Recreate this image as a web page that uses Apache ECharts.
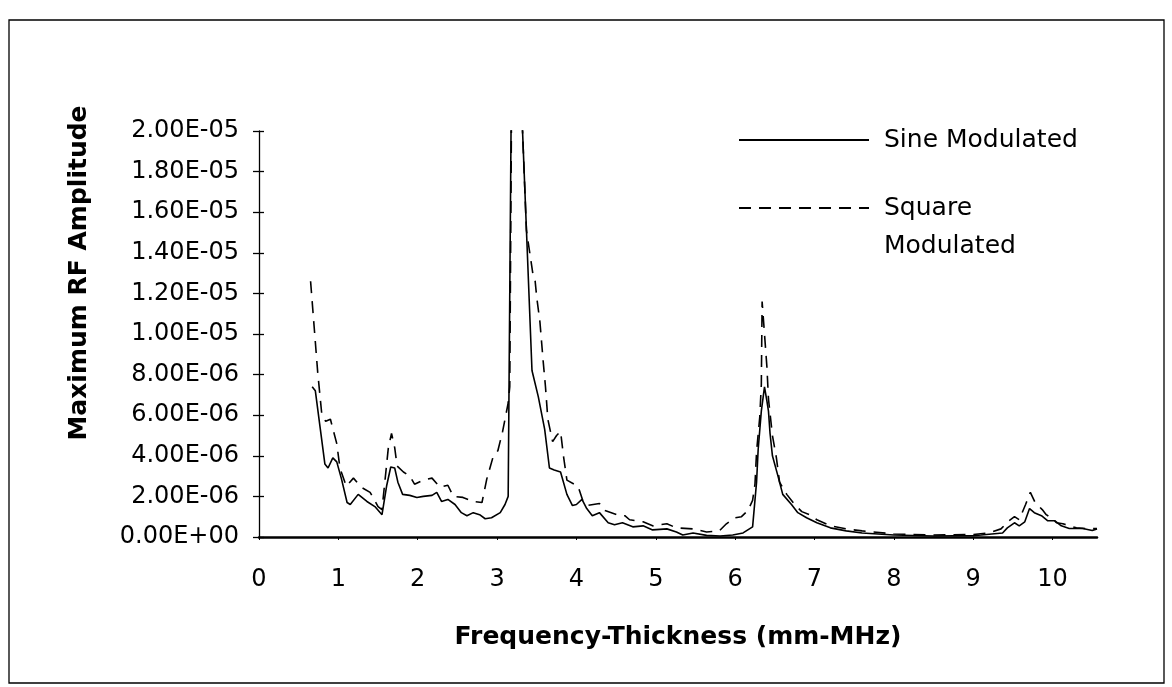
<!DOCTYPE html>
<html>
<head>
<meta charset="utf-8">
<script src="https://cdn.jsdelivr.net/npm/echarts@6/dist/echarts.min.js"></script>
<style>
html,body{margin:0;padding:0;background:#fff;}
#chart{width:1172px;height:687px;}
</style>
</head>
<body>
<div id="chart"></div>
<script>
// Frequency-thickness (mm-MHz) and amplitude (in units of 1E-06)
const sineX = [0.67,0.71,0.77,0.83,0.87,0.93,0.98,1.04,1.11,1.15,1.25,1.36,1.46,1.55,1.61,1.66,1.71,1.75,1.81,1.90,1.99,2.07,2.18,2.24,2.30,2.38,2.47,2.55,2.62,2.70,2.78,2.85,2.93,3.04,3.10,3.14,3.20,3.44,3.52,3.60,3.66,3.72,3.80,3.88,3.95,4.00,4.07,4.13,4.20,4.29,4.40,4.48,4.58,4.71,4.84,4.96,5.14,5.26,5.34,5.47,5.64,5.81,5.97,6.10,6.22,6.27,6.29,6.33,6.37,6.40,6.42,6.44,6.47,6.54,6.60,6.71,6.79,6.90,7.03,7.20,7.40,7.60,8.00,8.50,9.00,9.10,9.37,9.43,9.52,9.58,9.65,9.71,9.77,9.86,9.94,10.03,10.11,10.21,10.38,10.50,10.56];
const sineY = [7.4,7.2,5.4,3.6,3.4,3.9,3.7,2.85,1.7,1.6,2.1,1.75,1.5,1.1,2.55,3.45,3.4,2.7,2.1,2.05,1.95,2.0,2.05,2.2,1.75,1.85,1.6,1.2,1.05,1.2,1.1,0.9,0.95,1.2,1.6,2.0,32,8.2,6.9,5.3,3.4,3.3,3.2,2.1,1.55,1.6,1.85,1.4,1.05,1.2,0.7,0.6,0.7,0.5,0.55,0.35,0.4,0.25,0.1,0.2,0.08,0.05,0.1,0.2,0.5,2.7,4.3,6.2,7.4,6.7,6.2,5.1,4.0,3.0,2.1,1.6,1.2,0.95,0.7,0.45,0.3,0.2,0.1,0.05,0.07,0.1,0.2,0.45,0.7,0.55,0.75,1.4,1.2,1.05,0.8,0.8,0.55,0.42,0.42,0.32,0.4];

const squareX = [0.65,0.74,0.79,0.84,0.90,0.94,0.98,1.02,1.10,1.19,1.29,1.40,1.50,1.55,1.63,1.67,1.71,1.74,1.82,1.90,1.96,2.07,2.18,2.28,2.38,2.45,2.57,2.70,2.81,2.87,2.95,3.01,3.07,3.14,3.16,3.20,3.37,3.45,3.48,3.50,3.54,3.58,3.61,3.64,3.70,3.75,3.80,3.84,3.88,4.02,4.08,4.13,4.29,4.36,4.55,4.61,4.67,4.84,4.96,5.14,5.26,5.47,5.64,5.80,5.89,6.00,6.08,6.16,6.22,6.25,6.27,6.31,6.33,6.34,6.37,6.40,6.42,6.47,6.52,6.56,6.65,6.75,6.84,6.94,7.03,7.20,7.40,7.60,8.00,8.50,9.00,9.20,9.35,9.45,9.52,9.58,9.66,9.72,9.78,9.87,9.92,10.00,10.05,10.13,10.30,10.46,10.56];
const squareY = [12.6,8.1,6.1,5.7,5.8,5.2,4.6,3.4,2.5,2.9,2.45,2.2,1.5,1.35,4.4,5.1,4.4,3.5,3.2,3.0,2.6,2.8,2.9,2.45,2.55,2.0,1.95,1.75,1.7,2.85,3.95,4.25,5.2,6.6,7.4,32,15.1,13.0,12.6,11.8,10.6,8.7,7.4,5.8,4.7,5.0,5.2,3.9,2.8,2.5,1.8,1.55,1.65,1.3,1.05,1.05,0.85,0.75,0.55,0.65,0.45,0.4,0.25,0.3,0.65,0.95,1.0,1.3,1.8,2.6,4.2,5.9,7.5,11.6,10.0,8.4,6.8,5.0,3.9,2.7,2.1,1.6,1.25,1.1,0.85,0.55,0.4,0.3,0.15,0.1,0.12,0.2,0.4,0.8,1.0,0.85,1.6,2.2,1.7,1.35,1.1,0.9,0.7,0.65,0.45,0.4,0.42];

const xTickLabels = ['0','1','2','3','4','5','6','7','8','9','10'];
const yTickLabels = ['0.00E+00','2.00E-06','4.00E-06','6.00E-06','8.00E-06','1.00E-05','1.20E-05','1.40E-05','1.60E-05','1.80E-05','2.00E-05'];

const seriesNames = ['Sine Modulated', 'Square Modulated'];
const xTitle = 'Frequency-Thickness (mm-MHz)';
const yTitle = 'Maximum RF Amplitude';

const UNIT = 1e-6;
const pairs = (xs, ys) => xs.map((x, i) => [x, ys[i] * UNIT]);

const FONT = 'DejaVu Sans';
const chart = echarts.init(document.getElementById('chart'), null, {renderer: 'canvas'});

chart.setOption({
  backgroundColor: '#fff',
  animation: false,
  grid: {left: 259, top: 131, width: 838, height: 406},
  xAxis: {
    type: 'value', min: 0, max: 10.56, interval: 1,
    axisLine: {show: true, onZero: false, lineStyle: {color: '#000', width: 2.5}},
    axisTick: {show: true, length: 3, lineStyle: {color: '#000', width: 1}},
    splitLine: {show: false},
    axisLabel: {
      margin: 31, color: '#000', fontFamily: FONT, fontSize: 24, showMaxLabel: false,
      formatter: v => { const i = Math.round(v); return Math.abs(v - i) < 1e-6 ? (xTickLabels[i] || '') : ''; }
    },
    name: xTitle, nameLocation: 'middle', nameGap: 88,
    nameTextStyle: {color: '#000', fontFamily: FONT, fontSize: 25, fontWeight: 'bold'}
  },
  yAxis: [{
    type: 'value', min: 0, max: 20 * UNIT, interval: 2 * UNIT, position: 'left',
    axisLine: {show: true, lineStyle: {color: '#000', width: 1.3}},
    axisTick: {show: true, length: 6, lineStyle: {color: '#000', width: 1.3}},
    splitLine: {show: false},
    axisLabel: {
      margin: 20, color: '#000', fontFamily: FONT, fontSize: 24,
      formatter: v => yTickLabels[Math.round(v / (2 * UNIT))] || ''
    }
  }, {
    type: 'value', min: 0, max: 20 * UNIT, interval: 2 * UNIT, position: 'left',
    axisLine: {show: false},
    axisTick: {show: true, inside: true, length: 5, lineStyle: {color: '#000', width: 1.3}},
    axisLabel: {show: false},
    splitLine: {show: false}
  }],
  legend: [{
    left: 738, top: 125, padding: 0, orient: 'vertical', selectedMode: false,
    data: [seriesNames[0]], itemWidth: 130, itemHeight: 14,
    itemStyle: {opacity: 0},
    textStyle: {color: '#000', fontFamily: FONT, fontSize: 25, lineHeight: 30, padding: [0, 0, 0, 10]}
  }, {
    left: 738, top: 151, padding: 0, orient: 'vertical', selectedMode: false,
    data: [seriesNames[1]], itemWidth: 130, itemHeight: 14,
    itemStyle: {opacity: 0},
    formatter: name => '\u00a0\n' + name.replace(' ', '\n'),
    textStyle: {color: '#000', fontFamily: FONT, fontSize: 25, lineHeight: 38, padding: [0, 0, 0, 10]}
  }],
  graphic: [{
    type: 'rect', silent: true,
    shape: {x: 9, y: 20, width: 1155, height: 663},
    style: {fill: 'none', stroke: '#000', lineWidth: 1.3}
  }, {
    type: 'text', silent: true, x: 79, y: 273, rotation: Math.PI / 2,
    style: {text: yTitle, fill: '#000', font: 'bold 25px "DejaVu Sans"', textAlign: 'center', textVerticalAlign: 'middle'}
  }],
  series: [{
    name: seriesNames[0], type: 'line', showSymbol: false, symbol: 'none',
    data: pairs(sineX, sineY), clip: true,
    lineStyle: {color: '#000', width: 1.6, type: 'solid'},
    itemStyle: {color: '#000'}
  }, {
    name: seriesNames[1], type: 'line', showSymbol: false, symbol: 'none',
    data: pairs(squareX, squareY), clip: true,
    lineStyle: {color: '#000', width: 1.6, type: [12, 8]},
    itemStyle: {color: '#000'}
  }]
});
</script>
</body>
</html>
